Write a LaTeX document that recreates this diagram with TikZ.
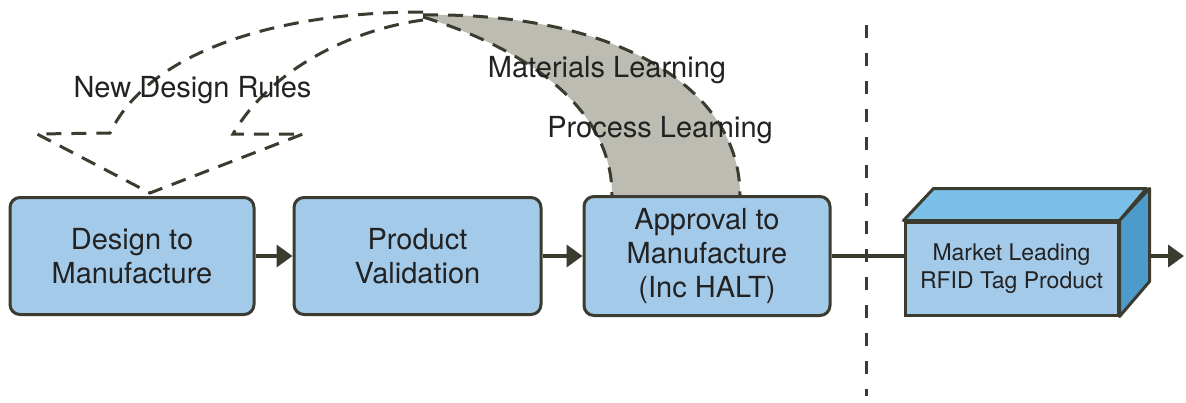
\documentclass[tikz,border=0pt]{standalone}
\usepackage{fontspec}
\setmainfont{TeX Gyre Heros}
\usetikzlibrary{arrows.meta}
\definecolor{boxblue}{HTML}{A4CAEA}
\definecolor{outl}{HTML}{3B3C2F}
\definecolor{bandgray}{HTML}{BCBCB2}
\definecolor{cubetop}{HTML}{7BC0E8}
\definecolor{cuberight}{HTML}{4D9BCB}
\definecolor{txt}{HTML}{222222}
\begin{document}
\begin{tikzpicture}[x=1pt,y=-1pt,
  procbox/.style={draw=outl, fill=boxblue, line width=3pt, rounded corners=10pt,
    align=center, font=\fontsize{29}{34}\selectfont, text=txt, inner sep=0pt},
  frontbox/.style={draw=outl, fill=boxblue, line width=3pt,
    align=center, font=\fontsize{23}{28}\selectfont, text=txt, inner sep=0pt},
  conn/.style={draw=outl, line width=4pt, -{Triangle[length=16pt,width=22pt]}},
  plainconn/.style={draw=outl, line width=4pt},
  dashline/.style={draw=outl, line width=3pt, dash pattern=on 15pt off 10pt},
  lbl/.style={font=\fontsize{29}{34}\selectfont, text=txt, inner sep=0pt, anchor=base}]
\useasboundingbox (0,0) rectangle (1186,402);

% grey learning band
\fill[bandgray] (423,15) .. controls (620,12) and (740,90) .. (740,195)
  -- (612,195) .. controls (612,110) and (530,50) .. (423,17) -- cycle;
\draw[dashline] (423,15) .. controls (620,12) and (740,90) .. (740,195);
\draw[dashline] (423,17) .. controls (530,50) and (612,110) .. (612,195);

% dashed curved arrow to design
\draw[dashline] (423,12) .. controls (280,12) and (150,50) .. (110,133)
  -- (37,134) -- (150,193) -- (303,134) -- (233,134)
  .. controls (270,70) and (350,30) .. (423,20);

% vertical dashed divider
\coordinate (vtop) at (866,25);
\coordinate (vbot) at (866,396);
\draw[draw=outl, line width=3pt, dash pattern=on 13pt off 15pt] (vtop) -- (vbot);

% process boxes
\node[procbox, minimum width=244pt, minimum height=117pt] (d2m) at (132,256) {Design to\\Manufacture};
\node[procbox, minimum width=247pt, minimum height=117pt] (pv) at (417.5,256) {Product\\Validation};
\node[procbox, minimum width=246pt, minimum height=119pt] (a2m) at (707,256) {Approval to\\Manufacture\\(Inc HALT)};

% cube
\node[frontbox, minimum width=213pt, minimum height=93pt] (cube) at (1011.5,268.5) {Market Leading\\RFID Tag Product};
\filldraw[fill=cubetop, draw=outl, line width=3pt, line join=round]
  (cube.north west) -- ++(30,-32) -- ++(213,0) -- (cube.north east) -- cycle;
\filldraw[fill=cuberight, draw=outl, line width=3pt, line join=round]
  (cube.north east) -- ++(30,-32) -- ++(0,93) -- (cube.south east) -- cycle;
\coordinate (cubeback) at (1148,256);
\coordinate (outend) at (1184,256);

% connectors
\draw[conn] (d2m.east) -- (pv.west);
\draw[conn] (pv.east) -- (a2m.west);
\draw[plainconn] (a2m.east) -- (a2m.east -| cube.west);
\draw[conn] (cubeback) -- (outend);

% labels
\node[lbl] (ndr) at (192.5,97) {New Design Rules};
\node[lbl] (ml) at (607,77) {Materials Learning};
\node[lbl] (pl) at (660,137) {Process Learning};
\end{tikzpicture}
\end{document}
